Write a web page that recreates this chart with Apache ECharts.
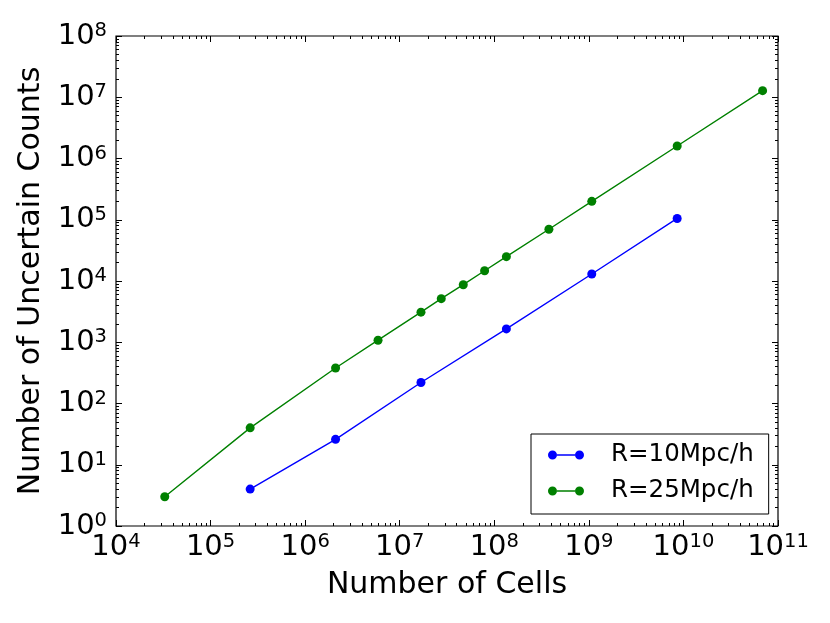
<!DOCTYPE html>
<html>
<head>
<meta charset="utf-8">
<title>Number of Uncertain Counts</title>
<script src="https://cdn.jsdelivr.net/npm/echarts@6.0.0/dist/echarts.min.js"></script>
<style>
  html,body{margin:0;padding:0;background:#fff;}
  #main{width:830px;height:623px;}
</style>
</head>
<body>
<div id="main"></div>
<script>
// values (log-log)
var cells10=[262144,2097152,16777216,134217728,1073741824,8589934592];
var counts10=[4,26,220,1650,13000,105000];
var cells25=[32768,262144,2097152,5.9e6,16777216,2.75e7,4.7e7,7.9e7,134217728,3.78e8,1073741824,8589934592,68719476736];
var counts25=[3,40,380,1080,3100,5150,8700,14700,25000,70000,200000,1.6e6,1.28e7];
var seriesNames=['R=10Mpc/h','R=25Mpc/h'];
var xDecades=[4,11];
var yDecades=[0,8];

var FONT='DejaVu Sans';
var myChart=echarts.init(document.getElementById('main'),null,{renderer:'canvas'});

function pairs(xs,ys){
  var out=[];
  for(var i=0;i<xs.length;i++){ out.push([xs[i],ys[i]]); }
  return out;
}

function minorTicks(from,to){
  var t=[];
  for(var n=from;n<to;n++){
    for(var k=2;k<=9;k++){ t.push(n+Math.log10(k)); }
  }
  return t;
}

var powLabel={
  formatter:function(v){ return '{b|10}{s|'+v+'}'; },
  rich:{
    b:{fontSize:29,lineHeight:30,fontFamily:FONT,color:'#000'},
    s:{fontSize:19.5,lineHeight:12,verticalAlign:'top',fontFamily:FONT,color:'#000'}
  }
};

// helper axes in exponent space, only for the ticks and labels
function tickAxis(pos,range,len,minor,label,extra){
  var ax={
    type:'value',
    position:pos,
    min:range[0],
    max:range[1],
    axisLine:{show:false,onZero:false},
    splitLine:{show:false},
    axisTick:{show:true,inside:true,length:len,lineStyle:{color:'#000',width:1}},
    axisLabel:{show:false}
  };
  if(minor){
    ax.axisTick.customValues=minorTicks(range[0],range[1]);
  }else{
    ax.interval=1;
  }
  if(label){
    ax.axisLabel=echarts.util.extend({show:true},label);
  }
  if(extra){ echarts.util.extend(ax,extra); }
  return ax;
}

var xLabel=echarts.util.extend({margin:6},powLabel);
var yLabel=echarts.util.extend({margin:9},powLabel);

var xAxes=[
  {type:'log',logBase:10,min:1e4,max:1e11,show:false},
  tickAxis('bottom',xDecades,6,false,xLabel,{
    name:'Number of Cells',nameLocation:'middle',nameGap:44,
    nameTextStyle:{fontSize:30,fontFamily:FONT,color:'#000'}
  }),
  tickAxis('bottom',xDecades,3,true),
  tickAxis('top',xDecades,6,false),
  tickAxis('top',xDecades,3,true)
];
var yAxes=[
  {type:'log',logBase:10,min:1,max:1e8,show:false},
  tickAxis('left',yDecades,6,false,yLabel,{
    name:'Number of Uncertain Counts',nameLocation:'middle',nameGap:70,nameRotate:90,
    nameTextStyle:{fontSize:30,fontFamily:FONT,color:'#000'}
  }),
  tickAxis('left',yDecades,3,true),
  tickAxis('right',yDecades,6,false),
  tickAxis('right',yDecades,3,true)
];

var legendIcon='path://M0,4.5A4.5,4.5,0,1,1,9,4.5A4.5,4.5,0,1,1,0,4.5Z'+
  'M27,4.5A4.5,4.5,0,1,1,36,4.5A4.5,4.5,0,1,1,27,4.5Z'+
  'M9,3.8L27,3.8L27,5.2L9,5.2Z';

var option={
  animation:false,
  backgroundColor:'#fff',
  textStyle:{fontFamily:FONT},
  grid:{left:116,right:52,top:36,bottom:97,show:true,borderColor:'#000',borderWidth:1.2,
    backgroundColor:'transparent',containLabel:false,outerBoundsMode:'none'},
  legend:{
    left:531,top:434,orient:'vertical',
    icon:legendIcon,itemWidth:36,itemHeight:9,itemGap:10,
    padding:[8,15,10,17],
    borderColor:'#000',borderWidth:1,borderRadius:0,
    itemStyle:{borderWidth:0},
    textStyle:{fontSize:24.5,lineHeight:26,fontFamily:FONT,color:'#000',padding:[0,0,0,22]},
    data:seriesNames
  },
  xAxis:xAxes,
  yAxis:yAxes,
  series:[{
    name:seriesNames[0],
    type:'line',
    xAxisIndex:0,yAxisIndex:0,
    data:pairs(cells10,counts10),
    symbol:'circle',symbolSize:9,showSymbol:true,
    itemStyle:{color:'#0000ff',borderWidth:0},
    lineStyle:{color:'#0000ff',width:1.4}
  },{
    name:seriesNames[1],
    type:'line',
    xAxisIndex:0,yAxisIndex:0,
    data:pairs(cells25,counts25),
    symbol:'circle',symbolSize:9,showSymbol:true,
    itemStyle:{color:'#008000',borderWidth:0},
    lineStyle:{color:'#008000',width:1.4}
  }]
};
myChart.setOption(option);
</script>
</body>
</html>
